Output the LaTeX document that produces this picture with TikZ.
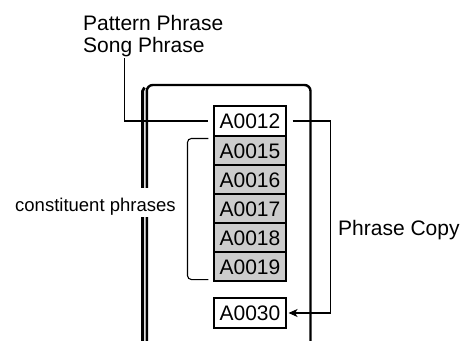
\documentclass[tikz,border=0pt]{standalone}
\usepackage{fontspec}
\setmainfont{Liberation Sans}
\usetikzlibrary{arrows.meta}
\begin{document}
\begin{tikzpicture}[x=1pt,y=-1pt,
  lbl/.style={inner sep=0pt,anchor=base west,font=\fontsize{21}{22}\selectfont},
  phrasebox/.style={draw=black,line width=1.1pt,minimum width=72pt,inner sep=0pt,
    text height=15pt,text depth=0pt,font=\fontsize{21}{22}\selectfont},
  cell/.style={phrasebox,fill=black!20,minimum height=29pt},
  wcell/.style={phrasebox,fill=white,minimum height=30pt},
  conn/.style={line width=1.1pt,black},
  framel/.style={line width=2.4pt,black}]
\useasboundingbox (0,0) rectangle (463,340);
% frame
\draw[framel,rounded corners=6pt] (146.8,342) -- (146.8,85) -- (310.5,85) -- (310.5,342);
\draw[line width=2.8pt] (142.6,342) -- (142.6,91) -- (144.5,87.5);
% labels
\node[lbl] (pp) at (83,30) {Pattern Phrase};
\node[lbl] (sp) at (83,52) {Song Phrase};
\node[inner sep=0pt,anchor=base west,fill=white,text height=23pt,text depth=6pt,
  font=\fontsize{18.5}{20}\selectfont] (cp) at (15,211) {constituent phrases};
\node[lbl] (pc) at (338,235) {Phrase Copy};
% boxes
\node[wcell] (a12) at (250,121) {A0012};
\node[cell] (a15) at (250,150.5) {A0015};
\node[cell] (a16) at (250,179.5) {A0016};
\node[cell] (a17) at (250,208.5) {A0017};
\node[cell] (a18) at (250,237.5) {A0018};
\node[cell] (a19) at (250,266.5) {A0019};
\node[wcell] (a30) at (250,313) {A0030};
% connectors
\coordinate (spb) at (124.3,58);
\draw[conn] (spb) |- ([xshift=-5pt]a12.west);
\draw[conn,rounded corners=4pt] ([xshift=-5pt,yshift=-3pt]a15.north west) -- ++(-21,0)
  |- ([xshift=-5pt,yshift=2pt]a19.south west);
\draw[conn,-{Stealth[length=9pt,width=8pt,inset=2.5pt]}] ([xshift=6pt]a12.east) -- ++(38,0)
  |- ([xshift=2pt]a30.east);
\end{tikzpicture}
\end{document}
